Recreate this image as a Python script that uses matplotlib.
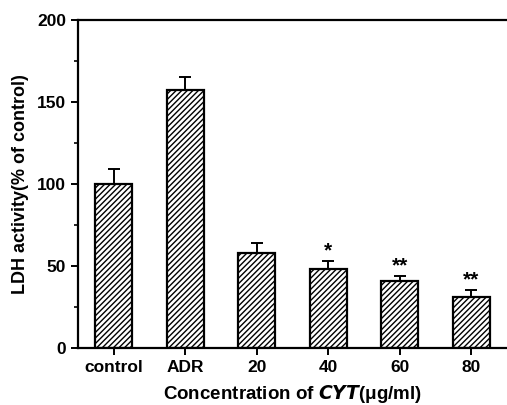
import numpy as np
import matplotlib
matplotlib.use("Agg")
import matplotlib.pyplot as plt

## Chart data
groups = ["control", "ADR", "20", "40", "60", "80"]
ldh_mean = [100, 157, 58, 48, 41, 31]
ldh_err = [9, 8, 6, 5, 3, 4]
marks = ["", "", "", "*", "**", "**"]

plt.rcParams["font.family"] = ["Liberation Sans", "DejaVu Sans"]
plt.rcParams["font.weight"] = "bold"
plt.rcParams["hatch.linewidth"] = 1.0

fig = plt.figure(figsize=(5.07, 4.05), dpi=100)
ax = fig.add_axes([0.154, 0.141, 0.846, 0.81])

x = np.arange(len(groups))
ax.bar(x, ldh_mean, width=0.52, color="white", edgecolor="black",
       linewidth=1.6, hatch="//////", zorder=2)
ax.errorbar(x, ldh_mean, yerr=[np.zeros(len(x)), ldh_err], fmt="none",
            ecolor="black", elinewidth=1.4, capsize=4, capthick=1.4, zorder=3)

## Significance stars above the error bars
for xi, m, e, s in zip(x, ldh_mean, ldh_err, marks):
    if s:
        ax.text(xi, m + e + 0.5, s, ha="center", va="bottom",
                fontsize=15, fontweight="bold")

ax.set_xlim(-0.5, 5.5)
ax.set_ylim(0, 200)
ax.set_yticks([0, 50, 100, 150, 200])
ax.set_yticks([25, 75, 125, 175], minor=True)
ax.set_xticks(x)
ax.set_xticklabels(groups)
ax.tick_params(axis="both", direction="out", labelsize=12.5, width=1.4, length=5)
ax.tick_params(axis="y", which="minor", direction="out", width=1.2, length=3)

for side in ["left", "bottom", "top"]:
    ax.spines[side].set_linewidth(1.6)
ax.spines["right"].set_visible(False)

ax.set_ylabel("LDH activity(% of control)", fontsize=13, fontweight="bold",
              labelpad=6)
ax.set_xlabel(r"Concentration of $\mathbfit{CYT}$(μg/ml)", fontsize=13.5,
              fontweight="bold", labelpad=6)

fig.savefig("out.png", dpi=100)
